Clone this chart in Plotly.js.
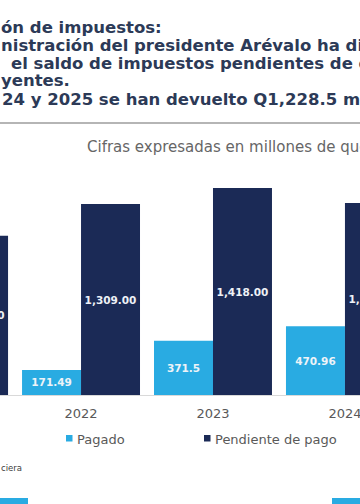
<!DOCTYPE html>
<html>
<head>
<meta charset="utf-8">
<script src="https://cdn.plot.ly/plotly-3.0.1.min.js"></script>
<style>
  html, body { margin: 0; padding: 0; background: #ffffff; overflow: hidden; }
  #chart { width: 360px; height: 504px; }
</style>
</head>
<body>
<div id="chart"></div>
<script>
// ---- data ----
const years = ['2021', '2022', '2023', '2024'];
const pagado = [null, 171.49, 371.5, 470.96];
const pendiente = [1092, 1309, 1418, 1316];
const seriesNames = ['Pagado', 'Pendiente de pago'];
const titleLines = [
  'ón de impuestos:',
  'nistración del presidente Arévalo ha disminuido',
  'el saldo de impuestos pendientes de devolución',
  'yentes.',
  '24 y 2025 se han devuelto Q1,228.5 millones'
];
const subtitle = 'Cifras expresadas en millones de quetzales';
const sourceText = 'ciera';

// ---- style ----
const W = 360, H = 504;
const mT = 160, mB = 109;
const plotH = H - mT - mB;
const baseY = H - mB;
const py = p => (baseY - p) / plotH;   // pixel row -> paper y
const px = p => p / W;                 // pixel col -> paper x
const cLight = '#29abe2';
const cNavy = '#1b2a56';
const cTitle = '#2c3a57';
const F = 'DejaVu Sans, Verdana, sans-serif';

const traces = [
  {
    type: 'bar', name: seriesNames[0], x: years, y: pagado,
    marker: { color: cLight },
    texttemplate: '%{y}', textposition: 'inside', insidetextanchor: 'middle',
    insidetextfont: { family: F, size: 10.5, color: '#eef3f8', weight: 'bold' },
    hoverinfo: 'skip'
  },
  {
    type: 'bar', name: seriesNames[1], x: years, y: pendiente,
    marker: { color: cNavy },
    texttemplate: '%{y:,.2f}', textposition: 'inside', insidetextanchor: 'middle',
    insidetextfont: { family: F, size: 10.5, color: '#eef1f6', weight: 'bold' },
    hoverinfo: 'skip'
  }
];

const titleCenters = [27.5, 46, 63.5, 80.5, 99.5];
const titleX = [0, 0, 10, 0, 1];
const annotations = titleLines.map((t, i) => ({
  text: '<b>' + t + '</b>', xref: 'paper', yref: 'paper',
  x: px(titleX[i]), y: py(titleCenters[i]), xanchor: 'left', yanchor: 'middle',
  showarrow: false, borderpad: 0,
  font: { family: F, size: 16.5, color: cTitle }
}));
annotations.push({
  text: subtitle, xref: 'paper', yref: 'paper', x: px(86), y: py(146.5),
  xanchor: 'left', yanchor: 'middle', showarrow: false, borderpad: 0,
  font: { family: F, size: 15, color: '#666666' }
});
annotations.push({
  text: seriesNames[0], xref: 'paper', yref: 'paper', x: px(76), y: py(439),
  xanchor: 'left', yanchor: 'middle', showarrow: false, borderpad: 0,
  font: { family: F, size: 13, color: '#595959' }
});
annotations.push({
  text: seriesNames[1], xref: 'paper', yref: 'paper', x: px(214), y: py(439),
  xanchor: 'left', yanchor: 'middle', showarrow: false, borderpad: 0,
  font: { family: F, size: 13, color: '#595959' }
});
annotations.push({
  text: sourceText, xref: 'paper', yref: 'paper', x: px(0), y: py(467.5),
  xanchor: 'left', yanchor: 'middle', showarrow: false, borderpad: 0,
  font: { family: F, size: 8.5, color: '#404040' }
});

const shapes = [
  { type: 'line', xref: 'paper', yref: 'paper', x0: 0, x1: 1, y0: py(123), y1: py(123),
    line: { color: '#9c9c9c', width: 1.5 } },
  { type: 'rect', xref: 'paper', yref: 'paper', x0: px(66), x1: px(72.5), y0: py(441.5), y1: py(435),
    fillcolor: cLight, line: { width: 0 } },
  { type: 'rect', xref: 'paper', yref: 'paper', x0: px(204), x1: px(210.5), y0: py(441.5), y1: py(435),
    fillcolor: cNavy, line: { width: 0 } },
  { type: 'rect', xref: 'paper', yref: 'paper', x0: 0, x1: px(28), y0: py(498), y1: py(505),
    fillcolor: cLight, line: { width: 0 } },
  { type: 'rect', xref: 'paper', yref: 'paper', x0: px(332), x1: 1, y0: py(498), y1: py(505),
    fillcolor: cLight, line: { width: 0 } }
];

const layout = {
  width: W, height: H,
  margin: { l: 0, r: 0, t: mT, b: mB, pad: 0 },
  paper_bgcolor: '#ffffff', plot_bgcolor: '#ffffff',
  barmode: 'group', bargap: 0.106, bargroupgap: 0,
  showlegend: false,
  xaxis: {
    type: 'category', range: [0.386, 3.114], fixedrange: true,
    showgrid: false, zeroline: false, ticks: '',
    showline: true, linecolor: '#d9d9d9', linewidth: 1,
    tickfont: { family: F, size: 13, color: '#595959' },
    ticklabelstandoff: 6
  },
  yaxis: {
    range: [0, plotH / 0.1459], visible: false, fixedrange: true
  },
  annotations: annotations,
  shapes: shapes
};

Plotly.newPlot('chart', traces, layout, { displayModeBar: false, staticPlot: true });
</script>
</body>
</html>
